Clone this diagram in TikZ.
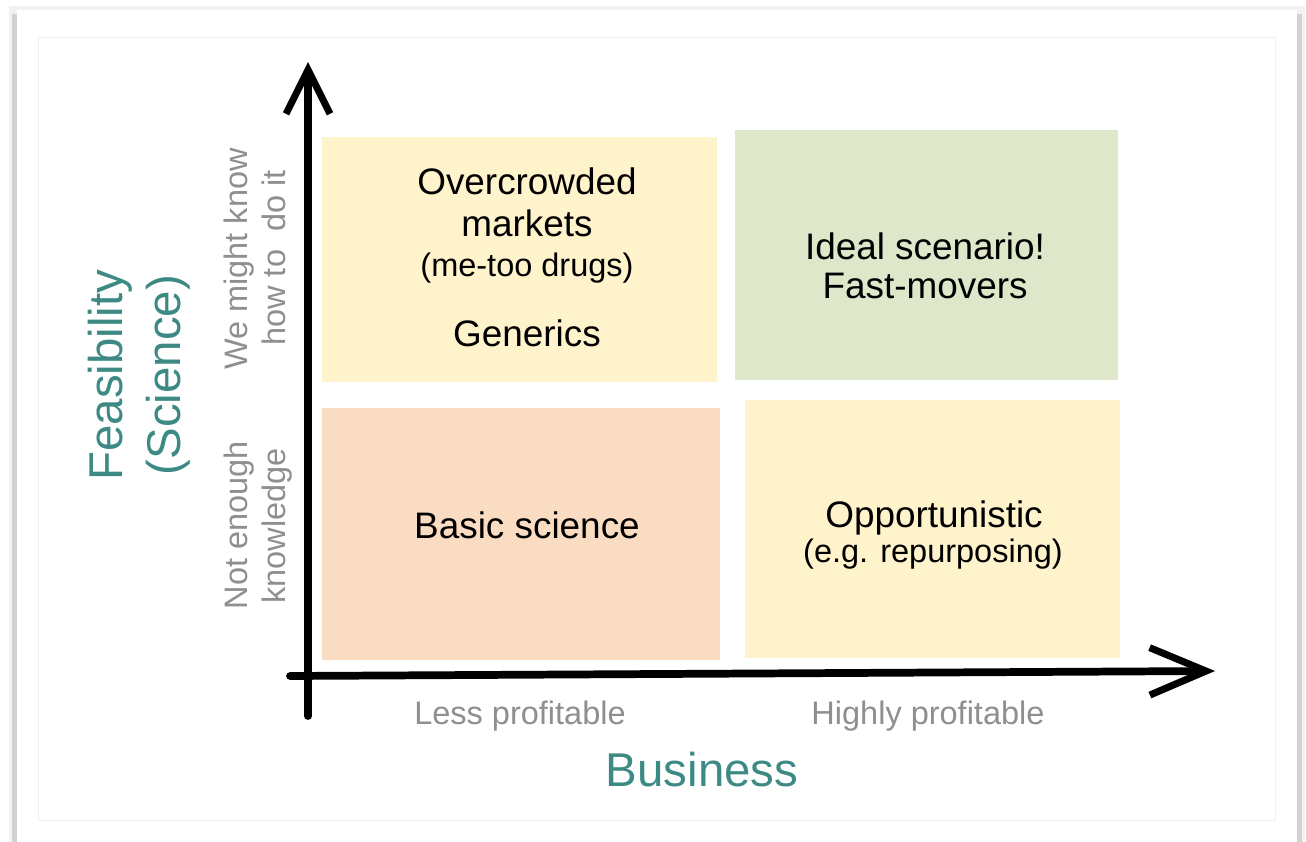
\documentclass[tikz,border=0pt]{standalone}
\usepackage{fontspec}
\setmainfont{Liberation Sans}
\usetikzlibrary{arrows.meta, positioning}
\definecolor{paleyellow}{HTML}{FFF3CC}
\definecolor{palegreen}{HTML}{DFE7CB}
\definecolor{palepeach}{HTML}{F9DCC2}
\definecolor{tealtext}{HTML}{3D8A84}
\definecolor{greytext}{HTML}{8F8F8F}

\begin{document}
\begin{tikzpicture}[x=0.02cm, y=-0.02cm,
	title/.style={font=\fontsize{21}{24}\selectfont, anchor=base, inner sep=0pt},
	subtitle/.style={font=\fontsize{18.5}{22}\selectfont, anchor=base, inner sep=0pt},
	axlabel/.style={font=\fontsize{18.5}{22}\selectfont, text=greytext, anchor=base, inner sep=0pt},
	axtitle/.style={font=\fontsize{27}{30}\selectfont, text=tealtext, anchor=base, inner sep=0pt},
	axis/.style={line width=4.4pt, line cap=round}]
	\useasboundingbox (0,0) rectangle (1306,842);
	% card with shadow
	\fill[black!5] (9,6) rectangle (1305,842);
	\fill[black!18] (12,14) rectangle (1302,842);
	\fill[white] (17,10) rectangle (1297,842);
	\draw[black!6] (38,37) rectangle (1275,820);
	% quadrants
	\fill[paleyellow] (322,137) rectangle (717,382);
	\fill[palegreen]  (735,130) rectangle (1118,380);
	\fill[palepeach]  (322,408) rectangle (720,660);
	\fill[paleyellow] (745,400) rectangle (1120,658);
	% axes
	\coordinate (ybase) at (308,716);
	\coordinate (ytip)  at (308,62);
	\coordinate (xbase) at (290,676);
	\coordinate (xtip)  at (1215,671);
	\draw[axis, -{Straight Barb[length=25pt,width=25pt,line width=4pt]}] (ybase) -- (ytip);
	\draw[axis, -{Straight Barb[length=32pt,width=27pt,line width=4pt]}] (xbase) -- (xtip);
	% quadrant texts
	\node[title]    (over)  at (527,194) {Overcrowded};
	\node[title]    (mark)  at (527,236) {markets};
	\node[subtitle] (metoo) at (527,276) {(me-too drugs)};
	\node[title]    (gen)   at (527,346) {Generics};
	\node[title]    (ideal) at (925,259) {Ideal scenario!};
	\node[title]    (fast)  at (925,298) {Fast-movers};
	\node[title]    (basic) at (527,538) {Basic science};
	\node[title]    (opp)   at (934,527) {Opportunistic};
	\node[subtitle] (repur) at (933,562) {(e.g. repurposing)};
	% axis labels
	\node[axlabel] (less)  at (520,724) {Less profitable};
	\node[axlabel] (high)  at (928,724) {Highly profitable};
	\node[axtitle] (bus)   at (702,786) {Business};
	\node[axtitle, rotate=90] (feas) at (122,375) {Feasibility};
	\node[axtitle, rotate=90] (sci)  at (180,375) {(Science)};
	\node[axlabel, rotate=90] (might) at (247,259) {We might know};
	\node[axlabel, rotate=90] (how)   at (285,258) {how to~ do it};
	\node[axlabel, rotate=90] (noten) at (247,525) {Not enough};
	\node[axlabel, rotate=90] (know)  at (285,526) {knowledge};
\end{tikzpicture}
\end{document}
